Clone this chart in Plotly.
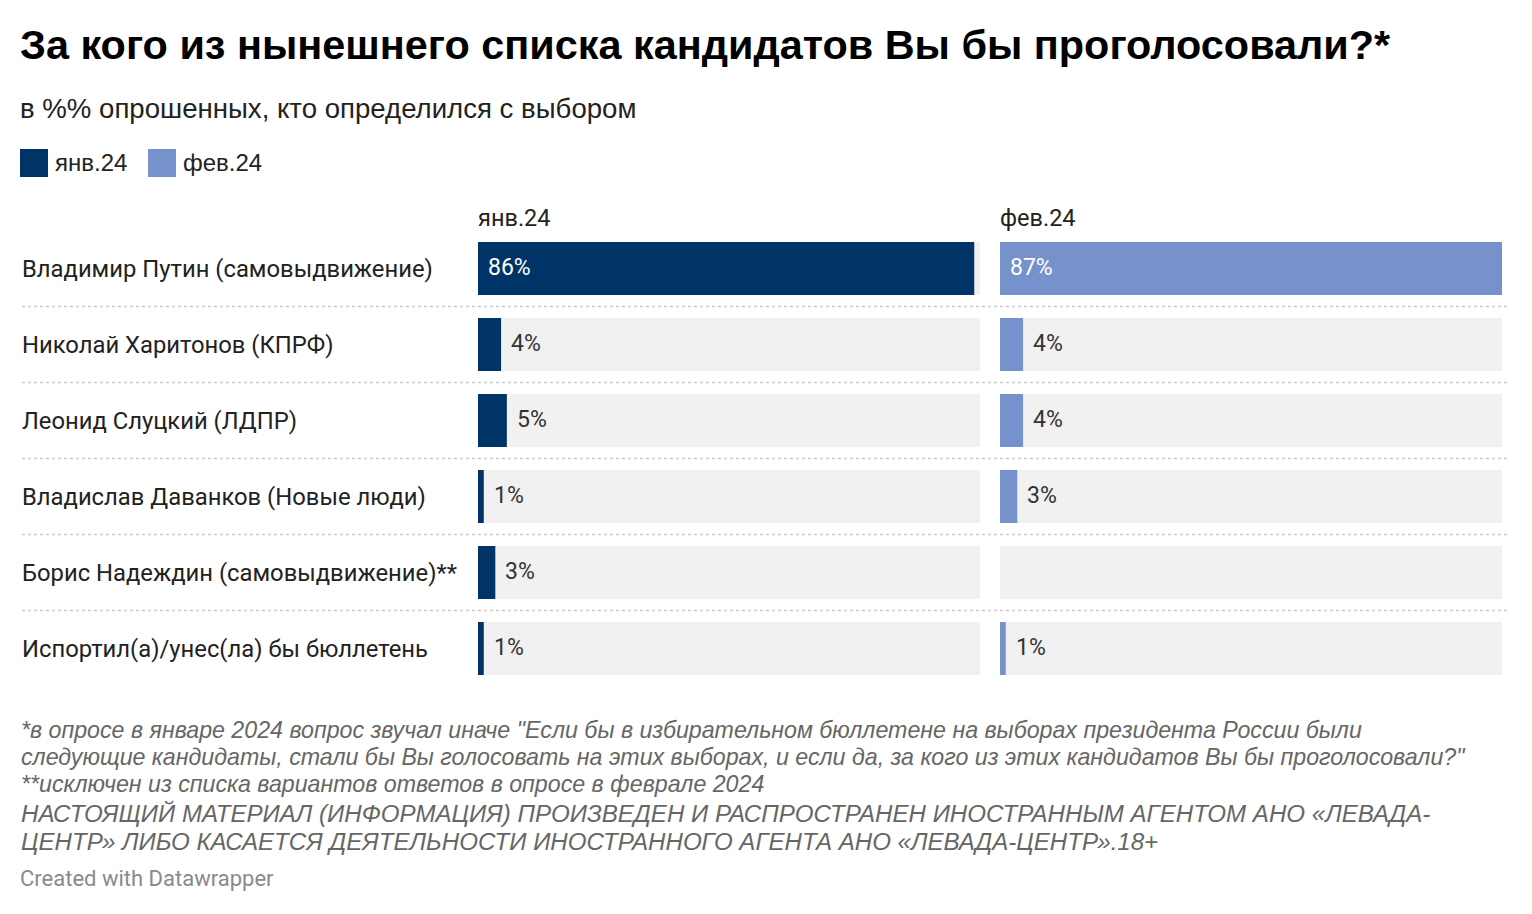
import plotly.graph_objects as go
from plotly.subplots import make_subplots

W, H = 1532, 914
OFF = 8  # default body margin of the html page
FW, FH = W - 2 * OFF, H - 2 * OFF

categories = [
    "Владимир Путин (самовыдвижение)",
    "Николай Харитонов (КПРФ)",
    "Леонид Слуцкий (ЛДПР)",
    "Владислав Даванков (Новые люди)",
    "Борис Надеждин (самовыдвижение)**",
    "Испортил(а)/унес(ла) бы бюллетень",
]
series_names = ["янв.24", "фев.24"]
jan_values = [86, 4, 5, 1, 3, 1]
feb_values = [87, 4, 4, 3, None, 1]
colors = ["#003466", "#7692cd"]

max_val = max(v for v in jan_values + feb_values if v is not None)

title = "За кого из нынешнего списка кандидатов Вы бы проголосовали?*"
subtitle = "в %% опрошенных, кто определился с выбором"
notes = [
    '*в опросе в январе 2024 вопрос звучал иначе "Если бы в избирательном бюллетене на выборах президента России были',
    'следующие кандидаты, стали бы Вы голосовать на этих выборах, и если да, за кого из этих кандидатов Вы бы проголосовали?"',
    '**исключен из списка вариантов ответов в опросе в феврале 2024',
    'НАСТОЯЩИЙ МАТЕРИАЛ (ИНФОРМАЦИЯ) ПРОИЗВЕДЕН И РАСПРОСТРАНЕН ИНОСТРАННЫМ АГЕНТОМ АНО «ЛЕВАДА-',
    'ЦЕНТР» ЛИБО КАСАЕТСЯ ДЕЯТЕЛЬНОСТИ ИНОСТРАННОГО АГЕНТА АНО «ЛЕВАДА-ЦЕНТР».18+',
]
credit = "Created with Datawrapper"


def px(x):
    return (x - OFF) / FW


def py(y):
    return 1 - (y - OFF) / FH


fig = make_subplots(rows=1, cols=2, shared_yaxes=True)

all_series = [jan_values, feb_values]
for i, vals in enumerate(all_series):
    col = i + 1
    fig.add_trace(go.Bar(
        y=categories, x=[max_val] * len(categories), orientation="h",
        marker=dict(color="#f1f1f1", line=dict(width=0)), width=0.697,
        hoverinfo="skip", showlegend=False), row=1, col=col)
    fig.add_trace(go.Bar(
        y=categories, x=vals, orientation="h", name=series_names[i],
        marker=dict(color=colors[i], line=dict(width=0)), width=0.697,
        showlegend=False), row=1, col=col)

fig.update_layout(barmode="overlay")

dom1 = [px(478), px(980)]
dom2 = [px(1000), px(1502)]
ydom = [py(686.5), py(230.5)]
fig.update_xaxes(range=[0, max_val], showgrid=False, zeroline=False,
                 showticklabels=False, fixedrange=True)
fig.update_layout(
    xaxis=dict(domain=dom1),
    xaxis2=dict(domain=dom2),
    yaxis=dict(domain=ydom, autorange="reversed", showticklabels=False,
               showgrid=False, zeroline=False, categoryorder="array",
               categoryarray=categories),
    yaxis2=dict(domain=ydom, showticklabels=False, showgrid=False, zeroline=False),
)

ann = []
# value labels
for i, vals in enumerate(all_series):
    xr = "x" if i == 0 else "x2"
    for cat, v in zip(categories, vals):
        if v is None:
            continue
        if v > 20:
            ann.append(dict(x=0, y=cat, xref=xr, yref="y", text=f"{v}%",
                            xanchor="left", yanchor="middle", xshift=8, yshift=1,
                            showarrow=False,
                            font=dict(family="Roboto", size=23, color="white")))
        else:
            ann.append(dict(x=v, y=cat, xref=xr, yref="y", text=f"{v}%",
                            xanchor="left", yanchor="middle", xshift=8, yshift=1,
                            showarrow=False,
                            font=dict(family="Roboto", size=23, color="#333333")))

# row labels
for cat in categories:
    ann.append(dict(x=px(20), y=cat, xref="paper", yref="y", text=cat,
                    xanchor="left", yanchor="middle", showarrow=False, yshift=0,
                    font=dict(family="Roboto", size=23.8, color="#222222")))

# column headers
for i, name in enumerate(series_names):
    x0 = [478, 1000][i]
    ann.append(dict(x=px(x0 - 2), y=py(218), xref="paper", yref="paper", text=name,
                    xanchor="left", yanchor="middle", showarrow=False,
                    font=dict(family="Roboto", size=23.5, color="#222222")))

# title / subtitle
ann.append(dict(x=px(18), y=py(45), xref="paper", yref="paper",
                text=f"<b>{title}</b>", xanchor="left", yanchor="middle",
                showarrow=False,
                font=dict(family="Liberation Sans", size=41.4, color="#000000")))
ann.append(dict(x=px(18), y=py(108), xref="paper", yref="paper",
                text=subtitle, xanchor="left", yanchor="middle", showarrow=False,
                font=dict(family="Liberation Sans", size=27.6, color="#222222")))

# legend
shapes = []
leg_x = [20, 148]
for i, name in enumerate(series_names):
    shapes.append(dict(type="rect", xref="paper", yref="paper",
                       x0=px(leg_x[i]), x1=px(leg_x[i] + 28), y0=py(177), y1=py(149),
                       fillcolor=colors[i], line=dict(width=0)))
    ann.append(dict(x=px(leg_x[i] + 33), y=py(162), xref="paper", yref="paper",
                    text=name, xanchor="left", yanchor="middle", showarrow=False,
                    font=dict(family="Liberation Sans", size=24, color="#222222")))

# separators between rows
for k in range(len(categories) - 1):
    shapes.append(dict(type="line", xref="paper", yref="y",
                       x0=px(22), x1=px(1510), y0=k + 0.5, y1=k + 0.5,
                       line=dict(color="#cccccc", width=1.5, dash="dot")))

# notes
note_y = [730, 757, 784, 813, 841]
note_size = [23.2, 23.2, 23.2, 24.1, 24.1]
for t, yy, sz in zip(notes, note_y, note_size):
    ann.append(dict(x=px(19), y=py(yy), xref="paper", yref="paper",
                    text=f"<i>{t}</i>", xanchor="left", yanchor="middle",
                    showarrow=False,
                    font=dict(family="Liberation Sans", size=sz, color="#666666")))
ann.append(dict(x=px(18), y=py(878), xref="paper", yref="paper",
                text=credit, xanchor="left", yanchor="middle", showarrow=False,
                font=dict(family="Roboto", size=22, color="#8a8a8a")))

fig.update_layout(
    width=FW, height=FH, margin=dict(l=0, r=0, t=0, b=0),
    paper_bgcolor="white", plot_bgcolor="white",
    annotations=ann, shapes=shapes, showlegend=False,
)

fig.write_html("out.html")
